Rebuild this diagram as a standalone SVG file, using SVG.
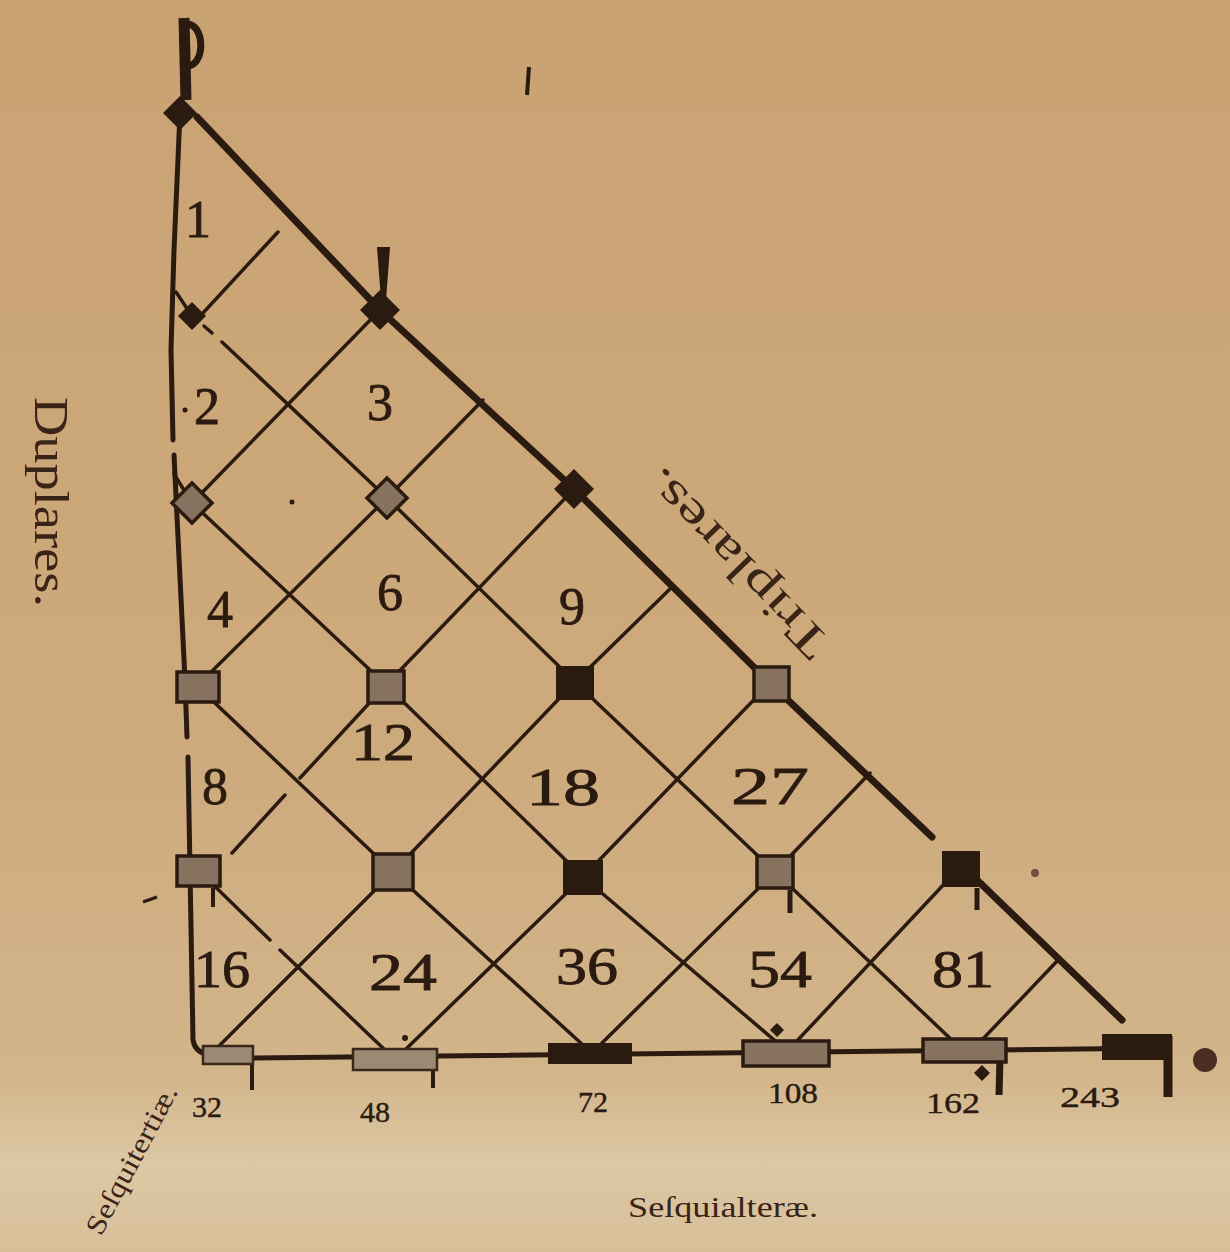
<svg xmlns="http://www.w3.org/2000/svg" width="1230" height="1252" viewBox="0 0 1230 1252">
<defs>
<linearGradient id="bg" x1="0" y1="0" x2="0" y2="1">
<stop offset="0" stop-color="#c9a272"/>
<stop offset="0.6" stop-color="#cdaa7c"/>
<stop offset="0.86" stop-color="#d3b58b"/>
<stop offset="0.93" stop-color="#dcc8a4"/>
<stop offset="1" stop-color="#d7bf99"/>
</linearGradient>
</defs>
<style>
.ln{stroke:#2a1a10;stroke-width:3.5;fill:none;stroke-linecap:round;stroke-linejoin:round}
.hyp{stroke:#2a1a10;stroke-width:7;fill:none;stroke-linecap:round;stroke-linejoin:round}
.edge{stroke:#2a1a10;stroke-width:5;fill:none;stroke-linecap:round}
.tick{stroke:#2a1a10;fill:none;stroke-linecap:butt}
.dk{fill:#2a1a10}
.mt{fill:#86725e;stroke:#2a1a10;stroke-width:3.5}
.mtl{fill:#9c8974;stroke:#3a281c;stroke-width:2.5}
.num{font-family:"Liberation Serif","DejaVu Serif",serif;font-size:52px;fill:#2a1a10;stroke:#2a1a10;stroke-width:0.8;text-anchor:middle}
.lab{font-family:"Liberation Serif","DejaVu Serif",serif;font-size:30px;fill:#2a1a10;stroke:#2a1a10;stroke-width:0.4;text-anchor:middle}
.ttl{font-family:"Liberation Serif","DejaVu Serif",serif;fill:#3a2418}
</style>
<rect x="0" y="0" width="1230" height="1252" fill="url(#bg)"/>

<g id="connectors">
<path class="hyp" d="M197,117 L380,310 L574,489 L770,683 L932,837"/>
<path class="hyp" d="M975,878 L1122,1020"/>
<path class="edge" d="M180,113 L174,250 L171,350 L173,440"/>
<path class="edge" d="M174,455 L185,680 L187,737"/>
<path class="edge" d="M188,757 L193,1040 Q195,1052 207,1054"/>
<path class="edge" d="M252,1058 L1168,1048"/>
<path class="ln" d="M176,292 L192,316"/>
<path class="ln" d="M204,326 L212,333"/>
<path class="ln" d="M222,342 L387,498 L575,682 L775,872 L955,1043"/>
<path class="ln" d="M174,474 L192,503 L386,685 L583,877 L780,1045"/>
<path class="ln" d="M197,686 L393,872 L583,1045"/>
<path class="ln" d="M198,870 L270,940"/>
<path class="ln" d="M280,950 L385,1050"/>
<path class="ln" d="M380,310 L192,503"/>
<path class="ln" d="M483,400 L387,498 L197,686"/>
<path class="ln" d="M574,489 L386,685 L300,778"/>
<path class="ln" d="M285,795 L232,853"/>
<path class="ln" d="M672,587 L575,682 L393,872 L215,1050"/>
<path class="ln" d="M770,683 L583,877 L405,1050"/>
<path class="ln" d="M870,773 L775,872 L600,1045"/>
<path class="ln" d="M962,865 L795,1043"/>
<path class="ln" d="M1060,958 L980,1042"/>
<path class="ln" d="M203,313 L278,232"/>
</g>

<g id="marks">
<path class="tick" stroke-width="11" d="M184,18 L186,100"/>
<path class="tick" stroke-width="7" d="M187,24 C204,24 206,62 189,66"/>
<polygon class="dk" points="377,247 390,247 386,300 381,300"/>
<path class="tick" stroke-width="4" d="M529,67 L527,95"/>
<path class="tick" stroke-width="4" d="M213,888 L213,907"/>
<path class="tick" stroke-width="5" d="M790,890 L790,913"/>
<path class="tick" stroke-width="5" d="M977,888 L977,910"/>
<path class="tick" stroke-width="4" d="M252,1063 L252,1090"/>
<path class="tick" stroke-width="4" d="M433,1065 L433,1088"/>
<path class="tick" stroke-width="7" d="M1000,1058 L999,1095"/>
<path class="tick" stroke-width="9" d="M1168,1036 L1168,1097"/>
<path class="tick" stroke-width="3" d="M143,902 L157,897"/>
<polygon class="dk" points="777,1023 784,1030 777,1037 770,1030"/>
<polygon class="dk" points="982,1065 990,1073 982,1081 974,1073"/>
<circle class="dk" cx="405" cy="1038" r="3"/>
<circle cx="1205" cy="1060" r="12" fill="#4a2e22"/>
<circle cx="1035" cy="873" r="4" fill="#7a4a3a"/>
<circle class="dk" cx="292" cy="502" r="2.5"/>
<circle class="dk" cx="185" cy="410" r="2.5"/>
</g>

<g id="node-1"><polygon class="dk" points="180,96 197,113 180,130 163,113"/><text class="num" x="198" y="237">1</text></g>
<g id="node-2"><polygon class="dk" points="192,302 206,316 192,330 178,316"/><text class="num" x="207" y="424" font-size="46">2</text></g>
<g id="node-3"><polygon class="dk" points="380,290 400,310 380,330 360,310"/><text class="num" x="380" y="420">3</text></g>
<g id="node-4"><polygon class="mt" points="192,483 212,503 192,523 172,503"/><text class="num" x="220" y="627">4</text></g>
<g id="node-6"><polygon class="mt" points="387,478 407,498 387,518 367,498"/><text class="num" x="390" y="610">6</text></g>
<g id="node-9"><polygon class="dk" points="574,469 594,489 574,509 554,489"/><text class="num" x="572" y="624">9</text></g>
<g id="node-8"><rect class="mt" x="177" y="672" width="42" height="30"/><text class="num" x="215" y="804">8</text></g>
<g id="node-12"><rect class="mt" x="368" y="671" width="36" height="32"/><text class="num" x="383" y="760" textLength="64" lengthAdjust="spacingAndGlyphs">12</text></g>
<g id="node-18"><rect class="dk" x="556" y="666" width="38" height="34"/><text class="num" x="563" y="805" textLength="74" lengthAdjust="spacingAndGlyphs">18</text></g>
<g id="node-27"><rect class="mt" x="754" y="667" width="35" height="34"/><text class="num" x="770" y="804" textLength="78" lengthAdjust="spacingAndGlyphs">27</text></g>
<g id="node-16"><rect class="mt" x="177" y="856" width="43" height="30"/><text class="num" x="222" y="987" textLength="56" lengthAdjust="spacingAndGlyphs">16</text></g>
<g id="node-24"><rect class="mt" x="373" y="854" width="40" height="36"/><text class="num" x="403" y="990" textLength="68" lengthAdjust="spacingAndGlyphs">24</text></g>
<g id="node-36"><rect class="dk" x="563" y="860" width="40" height="35"/><text class="num" x="587" y="984" textLength="62" lengthAdjust="spacingAndGlyphs">36</text></g>
<g id="node-54"><rect class="mt" x="757" y="856" width="36" height="32"/><text class="num" x="780" y="987" textLength="64" lengthAdjust="spacingAndGlyphs">54</text></g>
<g id="node-81"><rect class="dk" x="942" y="851" width="38" height="36"/><text class="num" x="963" y="987" textLength="62" lengthAdjust="spacingAndGlyphs">81</text></g>
<g id="node-32"><rect class="mtl" x="203" y="1046" width="50" height="18"/><text class="lab" x="207" y="1117">32</text></g>
<g id="node-48"><rect class="mtl" x="353" y="1049" width="84" height="21"/><text class="lab" x="375" y="1122">48</text></g>
<g id="node-72"><rect class="dk" x="548" y="1043" width="84" height="21"/><text class="lab" x="593" y="1112">72</text></g>
<g id="node-108"><rect class="mt" x="743" y="1041" width="86" height="25"/><text class="lab" x="793" y="1103" textLength="50" lengthAdjust="spacingAndGlyphs">108</text></g>
<g id="node-162"><rect class="mt" x="923" y="1039" width="83" height="23"/><text class="lab" x="953" y="1113" textLength="54" lengthAdjust="spacingAndGlyphs">162</text></g>
<g id="node-243"><rect class="dk" x="1102" y="1034" width="70" height="26"/><text class="lab" x="1090" y="1107" textLength="60" lengthAdjust="spacingAndGlyphs">243</text></g>

<g id="labels">
<text class="ttl" font-size="48" transform="translate(35,397) rotate(90)" textLength="210" lengthAdjust="spacingAndGlyphs">Duplares.</text>
<text class="ttl" font-size="46" text-anchor="middle" transform="translate(747,553) rotate(-134)" textLength="245" lengthAdjust="spacingAndGlyphs">Triplares.</text>
<text class="ttl" font-size="30" x="628" y="1217" textLength="190" lengthAdjust="spacingAndGlyphs">Seſquialteræ.</text>
<text class="ttl" font-size="28" transform="translate(101,1237) rotate(-62)" textLength="165" lengthAdjust="spacingAndGlyphs">Seſquitertiæ.</text>
</g>
</svg>
